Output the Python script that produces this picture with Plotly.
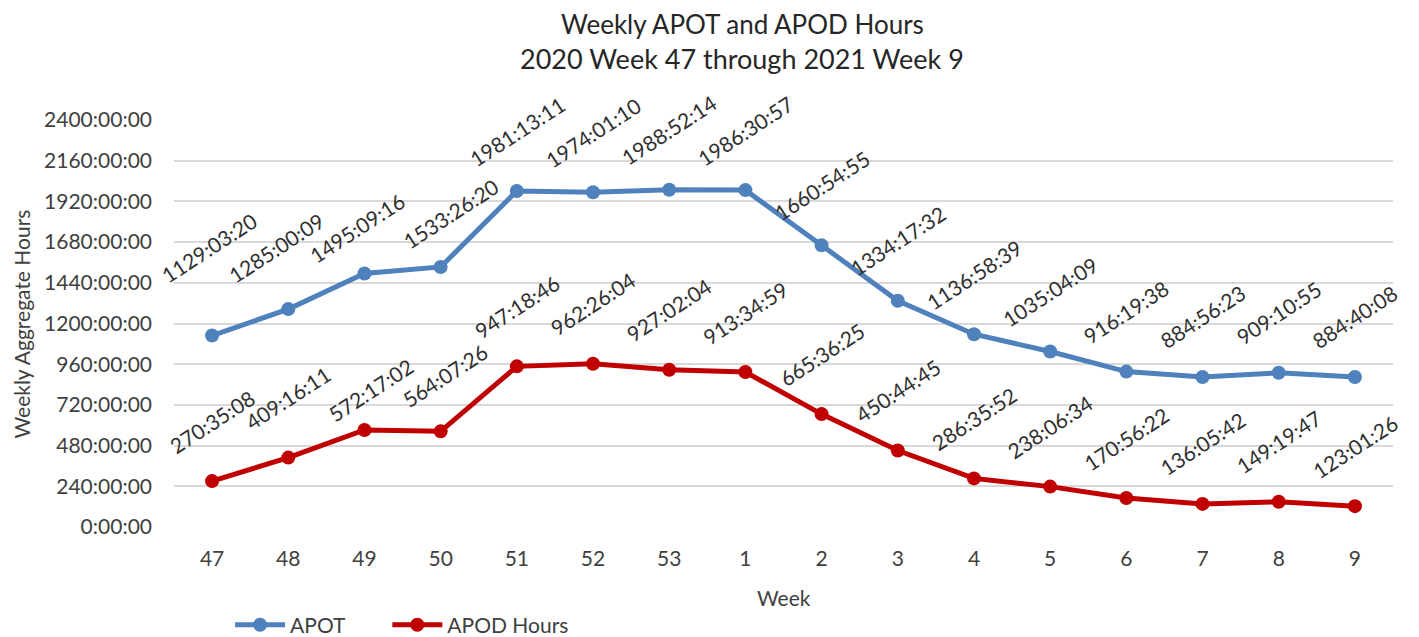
import plotly.graph_objects as go

weeks = ["47", "48", "49", "50", "51", "52", "53", "1", "2", "3", "4", "5", "6", "7", "8", "9"]
apot_labels = ["1129:03:20", "1285:00:09", "1495:09:16", "1533:26:20", "1981:13:11", "1974:01:10",
               "1988:52:14", "1986:30:57", "1660:54:55", "1334:17:32", "1136:58:39", "1035:04:09",
               "916:19:38", "884:56:23", "909:10:55", "884:40:08"]
apod_labels = ["270:35:08", "409:16:11", "572:17:02", "564:07:26", "947:18:46", "962:26:04",
               "927:02:04", "913:34:59", "665:36:25", "450:44:45", "286:35:52", "238:06:34",
               "170:56:22", "136:05:42", "149:19:47", "123:01:26"]
tick_hours = [0, 240, 480, 720, 960, 1200, 1440, 1680, 1920, 2160, 2400]


def to_hours(s):
    h, m, sec = (int(p) for p in s.split(":"))
    return h + m / 60 + sec / 3600


apot = [to_hours(s) for s in apot_labels]
apod = [to_hours(s) for s in apod_labels]
tick_text = [f"{h}:00:00" for h in tick_hours]

FONT = "Lato"
TXT = "#404040"
LBL = "#303030"
BLUE = "#4F81BD"
RED = "#C00000"
FS = 21

# label placement style: default pixel offset above each point, plus a few nudges
DEFAULT_SHIFT = 60
NUDGES = {("APOT", 0): (-3, 88), ("APOT", 1): (-12, 62), ("APOT", 2): (-7, 46),
          ("APOT", 3): (10, 53), ("APOD", 2): (7, 40), ("APOD", 3): (4, 56)}

fig = go.Figure()
fig.add_trace(go.Scatter(x=weeks, y=apot, name="APOT", mode="lines+markers", legend="legend",
                         line=dict(color=BLUE, width=5), marker=dict(size=14, color=BLUE)))
fig.add_trace(go.Scatter(x=weeks, y=apod, name="APOD Hours", mode="lines+markers", legend="legend2",
                         line=dict(color=RED, width=5), marker=dict(size=14, color=RED)))

annotations = []
for key, series_vals, series_labels in (("APOT", apot, apot_labels), ("APOD", apod, apod_labels)):
    for i, (v, t) in enumerate(zip(series_vals, series_labels)):
        dx, dy = NUDGES.get((key, i), (0, DEFAULT_SHIFT))
        annotations.append(dict(x=i, y=v, xref="x", yref="y", text=t, showarrow=False,
                                textangle=-33, xanchor="center", yanchor="middle",
                                xshift=dx, yshift=dy,
                                font=dict(family=FONT, size=FS, color=LBL)))

# axis titles
annotations.append(dict(x=0.5, y=-0.174, xref="paper", yref="paper", text="Week",
                        showarrow=False, xanchor="center", yanchor="middle",
                        font=dict(family=FONT, size=FS, color=TXT)))
annotations.append(dict(x=-0.1247, y=0.5, xref="paper", yref="paper", text="Weekly Aggregate Hours",
                        showarrow=False, xanchor="center", yanchor="middle", textangle=-90,
                        font=dict(family=FONT, size=FS, color=TXT)))
# title lines
annotations.append(dict(x=0.466, y=1.236, xref="paper", yref="paper", text="Weekly APOT and APOD Hours",
                        showarrow=False, xanchor="center", yanchor="middle",
                        font=dict(family=FONT, size=26, color="#262626")))
annotations.append(dict(x=0.466, y=1.150, xref="paper", yref="paper",
                        text="2020 Week 47 through 2021 Week 9",
                        showarrow=False, xanchor="center", yanchor="middle",
                        font=dict(family=FONT, size=27, color="#262626")))

legend_style = dict(orientation="h", y=-0.241, xanchor="left", yanchor="middle",
                    font=dict(family=FONT, size=FS, color=TXT), itemwidth=50,
                    bgcolor="rgba(0,0,0,0)")

fig.update_layout(
    width=1411, height=629,
    margin=dict(l=166, r=26, t=112, b=110, autoexpand=False),
    paper_bgcolor="white", plot_bgcolor="white",
    font=dict(family=FONT, size=FS, color=TXT),
    xaxis=dict(type="category", showgrid=False, showline=False, ticks="", automargin=False,
               tickfont=dict(family=FONT, size=FS, color=TXT), range=[-0.5, 15.5],
               ticklabelstandoff=17),
    yaxis=dict(range=[0, 2400], tickvals=tick_hours, ticktext=tick_text, automargin=False,
               gridcolor="#D9D9D9", gridwidth=1.5, zeroline=False, showline=False,
               tickfont=dict(family=FONT, size=FS, color=TXT), ticks="",
               ticklabelstandoff=21),
    legend=dict(x=0.046, **legend_style),
    legend2=dict(x=0.175, **legend_style),
    annotations=annotations,
    showlegend=True,
)

fig.write_html("out.html")
